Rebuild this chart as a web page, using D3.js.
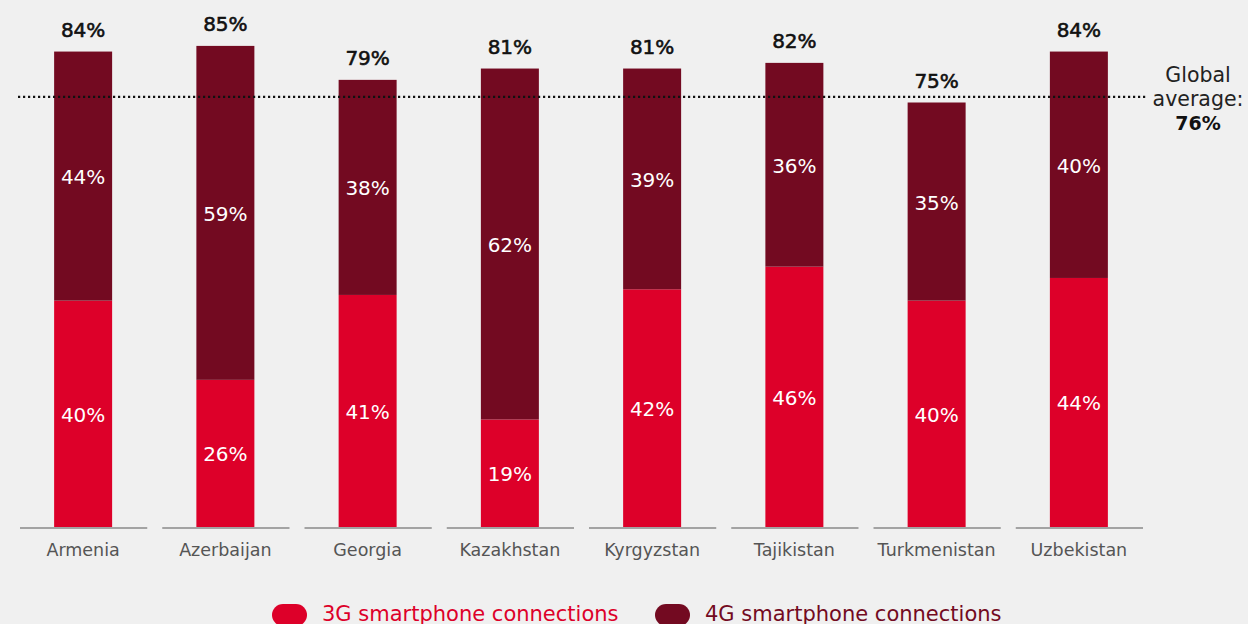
<!DOCTYPE html>
<html>
<head>
<meta charset="utf-8">
<script src="https://cdn.jsdelivr.net/npm/d3@7"></script>
<style>
  html, body { margin: 0; padding: 0; background: #f0f0f0; }
  svg { display: block; font-family: "DejaVu Sans", sans-serif; }
</style>
</head>
<body>
<svg id="chart" width="1248" height="624"></svg>
<script>
// === DATA ===
const countries = ["Armenia", "Azerbaijan", "Georgia", "Kazakhstan", "Kyrgyzstan", "Tajikistan", "Turkmenistan", "Uzbekistan"];
const share3G = [40, 26, 41, 19, 42, 46, 40, 44];
const share4G = [44, 59, 38, 62, 39, 36, 35, 40];
const totals = [84, 85, 79, 81, 81, 82, 75, 84];
const globalAverage = 76;
const seriesNames = ["3G smartphone connections", "4G smartphone connections"];

const col3G = "#dd0029";
const col4G = "#730a21";

const svg = d3.select("#chart");
const baseY = 527;

// === SCALES ===
const x = d3.scaleBand()
    .domain(countries)
    .range([12, 1150]);

const y = d3.scaleLinear()
    .domain([0, 100])
    .range([baseY, -39]);

const barW = 58;

// Segmented baseline per category
svg.append("g")
    .selectAll("line")
    .data(countries)
    .join("line")
    .attr("x1", d => x(d) + 8)
    .attr("x2", d => x(d) + x.bandwidth() - 7)
    .attr("y1", baseY + 1)
    .attr("y2", baseY + 1)
    .attr("stroke", "#8a8a8a")
    .attr("stroke-width", 1.5);

const rows = countries.map((c, i) => ({ c, g3: share3G[i], g4: share4G[i], total: totals[i] }));

const bars = svg.append("g")
    .selectAll("g")
    .data(rows)
    .join("g")
    .attr("transform", d => `translate(${x(d.c) + x.bandwidth() / 2 - barW / 2},0)`);

// 3G segment
bars.append("rect")
    .attr("x", 0)
    .attr("width", barW)
    .attr("y", d => y(d.g3))
    .attr("height", d => baseY - y(d.g3))
    .attr("fill", col3G);

// 4G segment
bars.append("rect")
    .attr("x", 0)
    .attr("width", barW)
    .attr("y", d => y(d.g3 + d.g4))
    .attr("height", d => y(d.g3) - y(d.g3 + d.g4))
    .attr("fill", col4G);

// segment labels
bars.append("text")
    .attr("x", barW / 2)
    .attr("y", d => (y(d.g3) + baseY) / 2 + 8)
    .attr("text-anchor", "middle")
    .attr("fill", "#fff")
    .attr("font-size", 20)
    .text(d => d.g3 + "%");

bars.append("text")
    .attr("x", barW / 2)
    .attr("y", d => (y(d.g3 + d.g4) + y(d.g3)) / 2 + 8)
    .attr("text-anchor", "middle")
    .attr("fill", "#fff")
    .attr("font-size", 20)
    .text(d => d.g4 + "%");

// total labels
bars.append("text")
    .attr("x", barW / 2)
    .attr("y", d => y(d.total) - 15)
    .attr("text-anchor", "middle")
    .attr("fill", "#111")
    .attr("stroke", "#111")
    .attr("stroke-width", 0.6)
    .attr("font-size", 20)
    .text(d => d.total + "%");

// category labels
svg.append("g")
    .selectAll("text")
    .data(countries)
    .join("text")
    .attr("x", d => x(d) + x.bandwidth() / 2)
    .attr("y", 556)
    .attr("text-anchor", "middle")
    .attr("fill", "#555")
    .attr("font-size", 17.5)
    .text(d => d);

// global average line
svg.append("line")
    .attr("x1", 18)
    .attr("x2", 1146)
    .attr("y1", y(globalAverage))
    .attr("y2", y(globalAverage))
    .attr("stroke", "#111")
    .attr("stroke-width", 2.4)
    .attr("stroke-dasharray", "2.2,2.8");

const ga = svg.append("text")
    .attr("text-anchor", "middle")
    .attr("font-size", 20.5)
    .attr("fill", "#222");
ga.append("tspan").attr("x", 1198).attr("y", 82).text("Global");
ga.append("tspan").attr("x", 1198).attr("y", 106).text("average:");
ga.append("tspan").attr("x", 1198).attr("y", 130).attr("font-weight", 700)
    .attr("font-size", 19).attr("fill", "#111").text(globalAverage + "%");

// legend
const legendItems = [
    { name: seriesNames[0], color: col3G, x: 272 },
    { name: seriesNames[1], color: col4G, x: 655 }
];
const lg = svg.append("g")
    .selectAll("g")
    .data(legendItems)
    .join("g")
    .attr("transform", d => `translate(${d.x},604)`);

lg.append("rect")
    .attr("width", 35)
    .attr("height", 22)
    .attr("rx", 11)
    .attr("fill", d => d.color);

lg.append("text")
    .attr("x", 50)
    .attr("y", 17)
    .attr("font-size", 21)
    .attr("fill", d => d.color)
    .text(d => d.name);
</script>
</body>
</html>
